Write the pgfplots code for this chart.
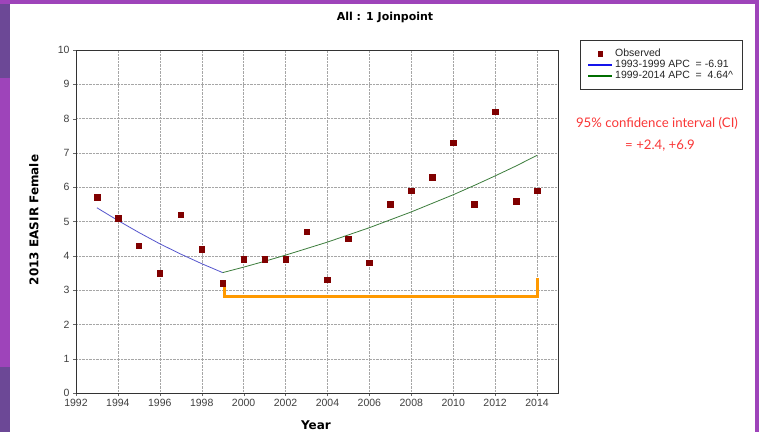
\documentclass[border=0pt]{standalone}
\usepackage{pgfplots}
\pgfplotsset{compat=1.18}
\usepackage{fontspec}
\setmainfont{Liberation Sans}
\newfontfamily\boldfont{DejaVu Sans}
\newfontfamily\gillfont{Lato}
\definecolor{bgpurple}{RGB}{158,68,186}
\definecolor{darkpurple}{RGB}{108,72,150}
\definecolor{obsred}{RGB}{128,0,0}
\definecolor{fitblue}{RGB}{85,85,205}
\definecolor{fitgreen}{RGB}{60,125,60}
\definecolor{legblue}{RGB}{20,20,235}
\definecolor{leggreen}{RGB}{0,110,0}
\definecolor{ciorange}{RGB}{255,153,0}
\definecolor{citext}{RGB}{250,55,55}
\begin{document}
\begin{tikzpicture}[x=1pt,y=1pt]
\fill[bgpurple] (0,0) rectangle (759,-432);
\fill[darkpurple] (0,-4) rectangle (10,-78);
\fill[darkpurple] (0,-367) rectangle (10,-432);
\fill[white] (10,-4) rectangle (755,-432);
\begin{axis}[
  at={(76pt,-393pt)}, anchor=south west,
  scale only axis, width=482pt, height=343pt,
  xmin=1992, xmax=2015, ymin=0, ymax=10,
  xtick={1992,1994,...,2014}, ytick={0,1,...,10},
  grid=major, grid style={densely dotted, gray!70},
  axis line style={black!80},
  tick align=outside, major tick length=3pt,
  tick style={black!60},
  xtick pos=bottom, ytick pos=left,
  /pgf/number format/1000 sep={},
  /pgf/number format/assume math mode=true,
  tick label style={font=\fontsize{10.5}{12}\selectfont, text=black!75},
  legend style={at={(1.0456,1.029)}, anchor=north west, draw=black!80,
    font=\fontsize{10.5}{11}\selectfont, inner xsep=7pt, inner ysep=7pt,
    row sep=-2pt, text=black!85},
  legend cell align=left,
  legend image code/.code={\draw[mark repeat=2,mark phase=2,#1] plot coordinates {(0pt,0pt)(12pt,0pt)(24pt,0pt)};},
]
\addlegendimage{only marks, mark=square*, mark size=2.2pt, mark options={fill=obsred, draw=obsred}}
\addlegendentry{Observed}
\addlegendimage{draw=legblue, line width=1.7pt}
\addlegendentry{1993-1999 APC \ = -6.91\hspace{14pt}}
\addlegendimage{draw=leggreen, line width=2pt}
\addlegendentry{1999-2014 APC \ = \ 4.64\textasciicircum}
\addplot[only marks, mark=square*, mark size=2.8pt, mark options={fill=obsred, draw=obsred}, forget plot]
  coordinates {
  (1993,5.7) (1994,5.1) (1995,4.3) (1996,3.5) (1997,5.2) (1998,4.2)
  (1999,3.2) (2000,3.9) (2001,3.9) (2002,3.9) (2003,4.7) (2004,3.3)
  (2005,4.5) (2006,3.8) (2007,5.5) (2008,5.9) (2009,6.3) (2010,7.3)
  (2011,5.5) (2012,8.2) (2013,5.6) (2014,5.9)};
\addplot[fitblue, line width=0.8pt, forget plot] coordinates {
  (1993,5.40) (1994,5.03) (1995,4.68) (1996,4.35) (1997,4.05) (1998,3.77) (1999,3.51)};
\addplot[fitgreen, line width=0.8pt, forget plot] coordinates {
  (1999,3.51) (2000,3.67) (2001,3.84) (2002,4.02) (2003,4.21) (2004,4.40)
  (2005,4.61) (2006,4.82) (2007,5.05) (2008,5.28) (2009,5.53) (2010,5.78)
  (2011,6.05) (2012,6.33) (2013,6.62) (2014,6.93)};
\addplot[ciorange, line width=3pt, forget plot] coordinates {
  (1999.07,3.28) (1999.07,2.82) (2014,2.82) (2014,3.34)};
\end{axis}
\node[font=\boldfont\bfseries\fontsize{11}{13}\selectfont] at (385,-17) {All : 1 Joinpoint};
\node[font=\boldfont\bfseries\fontsize{12}{14}\selectfont, rotate=90] at (34,-220) {2013 EASIR Female};
\node[font=\boldfont\bfseries\fontsize{12}{14}\selectfont] at (316,-425) {Year};
\node[font=\gillfont\fontsize{13.2}{15}\selectfont, text=citext] at (657,-123) {95\% confidence interval (CI)};
\node[font=\gillfont\fontsize{13.2}{15}\selectfont, text=citext] at (660,-146) {= +2.4, +6.9};
\end{tikzpicture}
\end{document}
